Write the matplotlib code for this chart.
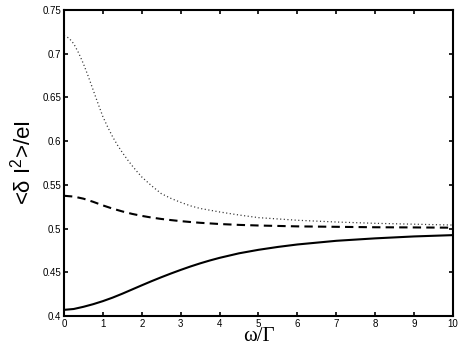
import matplotlib
matplotlib.use("Agg")
import matplotlib.pyplot as plt

# Data
x_solid = [0, 0.25, 0.5, 0.75, 1, 1.25, 1.5, 1.75, 2, 2.25, 2.5, 2.75, 3, 3.25, 3.5,
           3.75, 4, 4.5, 5, 5.5, 6, 7, 8, 9, 10]
y_solid = [0.407, 0.408, 0.4105, 0.4135, 0.417, 0.421, 0.4255, 0.4303, 0.4351, 0.4398,
           0.4443, 0.4486, 0.4527, 0.4566, 0.4602, 0.4635, 0.4665, 0.4717, 0.4757, 0.479,
           0.4818, 0.486, 0.4888, 0.491, 0.4925]

x_dash = [0, 0.25, 0.5, 0.75, 1, 1.25, 1.5, 1.75, 2, 2.25, 2.5, 2.75, 3, 3.25, 3.5, 4,
          4.5, 5, 6, 7, 8, 9, 10]
y_dash = [0.5375, 0.5366, 0.5342, 0.5306, 0.5265, 0.5228, 0.5196, 0.5168, 0.5145,
          0.5126, 0.511, 0.5097, 0.5085, 0.5075, 0.5066, 0.5052, 0.5042, 0.5035, 0.5025,
          0.502, 0.5015, 0.5013, 0.501]

x_dot = [0, 0.125, 0.25, 0.375, 0.5, 0.625, 0.75, 0.875, 1, 1.125, 1.25, 1.375, 1.5,
         1.625, 1.75, 1.875, 2, 2.25, 2.5, 2.75, 3, 3.25, 3.5, 4, 4.5, 5, 6, 7, 8, 9, 10]
y_dot = [0.7205, 0.718, 0.7115, 0.701, 0.6885, 0.674, 0.6585, 0.643, 0.628, 0.616,
         0.605, 0.5955, 0.587, 0.5792, 0.572, 0.5653, 0.559, 0.549, 0.540, 0.5345,
         0.530, 0.526, 0.523, 0.519, 0.5155, 0.5125, 0.5095, 0.5075, 0.506, 0.505, 0.504]

x_ticks = [0, 1, 2, 3, 4, 5, 6, 7, 8, 9, 10]
y_ticks = [0.4, 0.45, 0.5, 0.55, 0.6, 0.65, 0.7, 0.75]
y_ticklabels = ["0.4", "0.45", "0.5", "0.55", "0.6", "0.65", "0.7", "0.75"]

plt.rcParams['font.family'] = ['Liberation Sans', 'DejaVu Sans']
plt.rcParams['mathtext.fontset'] = 'custom'
plt.rcParams['mathtext.rm'] = 'Liberation Sans'
plt.rcParams['mathtext.it'] = 'Liberation Sans'
plt.rcParams['mathtext.sf'] = 'Liberation Sans'

fig = plt.figure(figsize=(4.63, 3.55), dpi=100)
ax = fig.add_axes([0.1382, 0.1099, 0.8402, 0.8619])

ax.plot(x_solid, y_solid, color='black', linewidth=1.5, linestyle='-')
ax.plot(x_dash, y_dash, color='black', linewidth=1.5, linestyle=(0, (4, 2.5)))
ax.plot(x_dot, y_dot, color='#333333', linewidth=0.9, linestyle=(0, (0.9, 2.0)))

ax.set_xlim(0, 10)
ax.set_ylim(0.4, 0.75)
ax.set_xticks(x_ticks)
ax.set_xticklabels([str(t) for t in x_ticks])
ax.set_yticks(y_ticks)
ax.set_yticklabels(y_ticklabels)

ax.tick_params(direction='in', length=3, width=1.2, labelsize=7,
               top=True, right=True, pad=2)
for s in ax.spines.values():
    s.set_linewidth(1.5)

ax.set_xlabel('ω/Γ', fontsize=15, family=['Liberation Serif', 'DejaVu Serif'], labelpad=-1)
ax.set_ylabel(r'<$\delta$ I$^{2}$>/eI', fontsize=16, labelpad=5)

fig.savefig('out.png', dpi=100)
